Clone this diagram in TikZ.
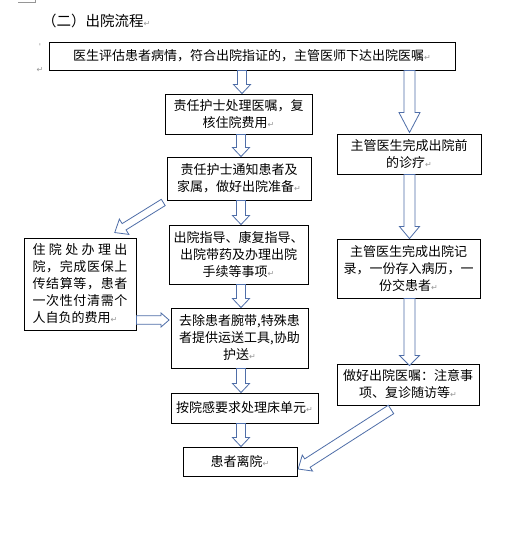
\documentclass[tikz,border=0pt]{standalone}
\usepackage{fontspec}
\setmainfont{Noto Sans CJK SC}
\newfontfamily\symf{DejaVu Sans}
\usetikzlibrary{calc}
\definecolor{arrblue}{RGB}{79,110,168}
\definecolor{retgray}{RGB}{150,150,150}
\newcommand\ret{{\symf\fontsize{8}{8}\selectfont\textcolor{retgray}{↵}}}
% #1 tail, #2 tip, #3 shaft half width, #4 head half width, #5 head length
\newcommand\blockarrow[5]{%
  \coordinate (hb) at ($(#2)!#5!(#1)$);
  \draw[barr] ($(#1)!#3!90:(#2)$) -- ($(hb)!#3!90:(#2)$) -- ($(hb)!#4!90:(#2)$)
    -- (#2) -- ($(hb)!#4!-90:(#2)$) -- ($(hb)!#3!-90:(#2)$) -- ($(#1)!#3!-90:(#2)$) -- cycle;}
\tikzset{
  box/.style={draw=black, line width=0.9pt, align=center, inner sep=0pt,
    font=\fontsize{13}{17}\selectfont},
  barr/.style={draw=arrblue, line width=0.8pt, fill=white, line join=miter},
  retmark/.style={inner sep=0pt, font=\symf\fontsize{8}{8}\selectfont, text=retgray}
}
\begin{document}
\begin{tikzpicture}[x=1pt,y=-1pt]
\useasboundingbox (0,0) rectangle (520,559);
\fill[white] (0,0) rectangle (520,559);
% page corner marks
\draw[retgray, line width=0.6pt] (18,2.5) -- (35,2.5) -- (35,0);
% title
\node[anchor=west, inner sep=0pt, font=\fontsize{14.5}{16}\selectfont] (title) at (42,20.5) {（二）出院流程\ret};
\node[retmark] (m1) at (40,47) {'};
\node[retmark] (m2) at (40,70) {↵};
% boxes
\node[box, minimum width=406pt, minimum height=28pt] (n1) at (252,56)
  {医生评估患者病情，符合出院指证的，主管医师下达出院医嘱\ret};
\node[box, minimum width=147pt, minimum height=40pt] (n2) at (238.5,114)
  {责任护士处理医嘱，复\\核住院费用\ret};
\node[box, minimum width=144pt, minimum height=43pt] (n3) at (239,178.5)
  {责任护士通知患者及\\家属，做好出院准备\ret};
\node[box, minimum width=139pt, minimum height=59pt] (n4) at (238.5,254.5)
  {出院指导、康复指导、\\出院带药及办理出院\\手续等事项\ret};
\node[box, minimum width=137pt, minimum height=60pt] (n5) at (239.5,338)
  {去除患者腕带,特殊患\\者提供运送工具,协助\\护送\ret};
\node[box, minimum width=147pt, minimum height=30pt] (n6) at (244.5,408)
  {按院感要求处理床单元\ret};
\node[box, minimum width=114pt, minimum height=29pt] (n7) at (240,461.5)
  {患者离院\ret};
\node[box, minimum width=112pt, minimum height=92pt, align=left] (n8) at (80,284)
  {\hbox to 95pt{住\hfil 院\hfil 处\hfil 办\hfil 理\hfil 出}\\
   \hbox to 95pt{院\hfil ，\hfil 完\hfil 成\hfil 医\hfil 保\hfil 上}\\
   \hbox to 95pt{传\hfil 结\hfil 算\hfil 等\hfil ，\hfil 患\hfil 者}\\
   \hbox to 95pt{一\hfil 次\hfil 性\hfil 付\hfil 清\hfil 需\hfil 个}\\
   \hbox to 95pt{人自负的费用\ret\hfil}};
\node[box, minimum width=144pt, minimum height=40pt] (n9) at (409,154)
  {主管医生完成出院前\\的诊疗\ret};
\node[box, minimum width=143pt, minimum height=59pt] (n10) at (408.5,268.5)
  {主管医生完成出院记\\录，一份存入病历，一\\份交患者\ret};
\node[box, minimum width=142pt, minimum height=41pt] (n11) at (408,384.5)
  {做好出院医嘱：注意事\\项、复诊随访等\ret};
% centre column arrows
\coordinate (a1t) at ($(n2.north)+(3.5,0)$);  \coordinate (a1s) at (a1t |- n1.south);
\coordinate (a2t) at ($(n3.north)+(2,0)$);    \coordinate (a2s) at (a2t |- n2.south);
\coordinate (a3t) at ($(n4.north)+(2.5,0)$);  \coordinate (a3s) at (a3t |- n3.south);
\coordinate (a4t) at ($(n5.north)+(1.5,0)$);  \coordinate (a4s) at (a4t |- n4.south);
\coordinate (a5t) at ($(n6.north)+(-3.5,0)$); \coordinate (a5s) at (a5t |- n5.south);
\coordinate (a6t) at ($(n7.north)+(1,0)$);    \coordinate (a6s) at (a6t |- n6.south);
\blockarrow{a1s}{a1t}{4.5pt}{8.5pt}{9pt}
\blockarrow{a2s}{a2t}{4.5pt}{8.5pt}{9pt}
\blockarrow{a3s}{a3t}{4.5pt}{8.5pt}{9pt}
\blockarrow{a4s}{a4t}{4.5pt}{8.5pt}{9pt}
\blockarrow{a5s}{a5t}{4.5pt}{8.5pt}{9pt}
\blockarrow{a6s}{a6t}{4.5pt}{8.5pt}{9pt}
% right column arrows
\coordinate (a7t) at ($(n9.north)+(0.5,-1)$);  \coordinate (a7s) at (a7t |- n1.south);
\coordinate (a8t) at ($(n10.north)+(1,0)$);    \coordinate (a8s) at (a8t |- n9.south);
\coordinate (a9t) at ($(n11.north)+(1.5,2)$);  \coordinate (a9s) at (a9t |- n10.south);
\blockarrow{a7s}{a7t}{5.5pt}{10.5pt}{20pt}
\blockarrow{a8s}{a8t}{5.5pt}{10pt}{12pt}
\blockarrow{a9s}{a9t}{5.5pt}{10pt}{10pt}
% diagonal and side arrows
\coordinate (a10s) at ($(n3.south west)+(-3.3,2)$);
\coordinate (a10t) at ($(n8.north east)+(-21.7,-5)$);
\blockarrow{a10s}{a10t}{3.7pt}{9pt}{11pt}
\coordinate (a11s) at ($(n11.south)+(-17,4)$);
\coordinate (a11t) at ($(n7.east)+(0.7,7.5)$);
\blockarrow{a11s}{a11t}{5pt}{9.5pt}{11pt}
\coordinate (a12t) at ($(n5.west)+(-1.5,-18)$);
\coordinate (a12s) at (n8.east |- a12t);
\blockarrow{a12s}{a12t}{4.3pt}{7pt}{8pt}
\end{tikzpicture}
\end{document}
